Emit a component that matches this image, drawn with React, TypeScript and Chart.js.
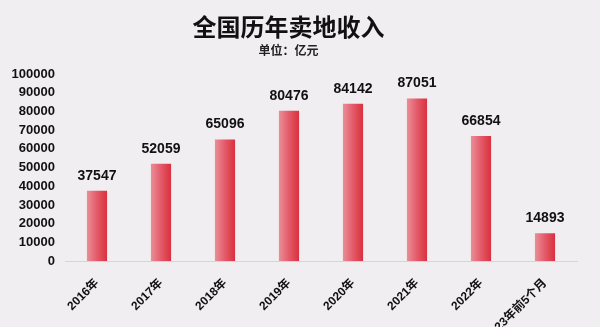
import React, { useEffect, useRef } from "react";
import { Chart, registerables } from "chart.js";

Chart.register(...registerables);

const categories = ["2016年", "2017年", "2018年", "2019年", "2020年", "2021年", "2022年", "2023年前5个月"];
const values = [37547, 52059, 65096, 80476, 84142, 87051, 66854, 14893];
const yTicks = [0, 10000, 20000, 30000, 40000, 50000, 60000, 70000, 80000, 90000, 100000];
const titleText = "全国历年卖地收入";
const subtitleText = "单位：亿元";

const BG = "#f1eef1";
const FONT = "'Liberation Sans', 'Noto Sans CJK SC', sans-serif";
const CJK = "'Noto Sans CJK SC', sans-serif";
const BAR_PCT = 0.9;
const CAT_PCT = 0.35;

export default function App() {
  const ref = useRef<HTMLCanvasElement | null>(null);
  useEffect(() => {
    document.body.style.margin = "0";
    document.body.style.background = BG;
    document.body.style.overflow = "hidden";
    const canvas = ref.current!;
    const bgPlugin = {
      id: "bg",
      beforeDraw(chart: any) {
        const c = chart.ctx;
        c.save();
        c.fillStyle = BG;
        c.fillRect(0, 0, chart.width, chart.height);
        c.restore();
      },
    };
    const labelPlugin = {
      id: "vals",
      afterDatasetsDraw(chart: any) {
        const c = chart.ctx;
        const meta = chart.getDatasetMeta(0);
        c.save();
        c.font = `bold 14px ${FONT}`;
        c.fillStyle = "#111";
        c.textAlign = "center";
        c.textBaseline = "middle";
        meta.data.forEach((el: any, i: number) => {
          c.fillText(String(values[i]), el.x, el.y - 15);
        });
        c.restore();
      },
    };
    const chart = new Chart(canvas, {
      type: "bar",
      data: {
        labels: categories,
        datasets: [
          {
            data: values,
            barPercentage: BAR_PCT,
            categoryPercentage: CAT_PCT,
            backgroundColor: (ctx: any) => {
              const ch = ctx.chart;
              const xs = ch.scales && ch.scales.x;
              if (!xs || !ch.chartArea || ctx.dataIndex === undefined) return "#e2505e";
              const cx = xs.getPixelForValue(ctx.dataIndex);
              const w = (xs.width / categories.length) * BAR_PCT * CAT_PCT;
              const g = ch.ctx.createLinearGradient(cx - w / 2, 0, cx + w / 2, 0);
              g.addColorStop(0, "#ea8e98");
              g.addColorStop(0.5, "#e45a69");
              g.addColorStop(1, "#d9303f");
              return g;
            },
          },
        ],
      },
      options: {
        animation: false,
        responsive: false,
        maintainAspectRatio: false,
        layout: { padding: { top: 0, right: 23, left: 0, bottom: 0 } },
        plugins: {
          legend: { display: false },
          tooltip: { enabled: false },
          title: {
            display: true,
            text: titleText,
            color: "#111",
            font: { family: CJK, size: 24, weight: "bold" },
            padding: { top: 12, bottom: 2 },
          },
          subtitle: {
            display: true,
            text: subtitleText,
            color: "#222",
            font: { family: CJK, size: 12, weight: "bold" },
            padding: { top: 0, bottom: 17 },
          },
        },
        scales: {
          x: {
            grid: { display: false, drawTicks: false },
            border: { display: true, color: "#d8d4d8" },
            afterFit: (s: any) => {
              s.height = 66;
            },
            ticks: {
              minRotation: 45,
              maxRotation: 45,
              autoSkip: false,
              padding: 15,
              color: "#111",
              font: { family: FONT, size: 12, weight: "bold" },
            },
          },
          y: {
            min: 0,
            max: 100000,
            afterFit: (s: any) => {
              s.width = 65;
            },
            afterBuildTicks: (s: any) => {
              s.ticks = yTicks.map((v) => ({ value: v }));
            },
            grid: { display: false, drawTicks: false },
            border: { display: false },
            ticks: {
              padding: 10,
              color: "#111",
              font: { family: FONT, size: 13, weight: "bold" },
              callback: (v: any) => String(v),
            },
          },
        },
      },
      plugins: [bgPlugin, labelPlugin],
    });
    return () => chart.destroy();
  }, []);
  return (
    <div style={{ width: 600, height: 327, background: BG }}>
      <canvas ref={ref} width={600} height={327} style={{ display: "block" }} />
    </div>
  );
}
